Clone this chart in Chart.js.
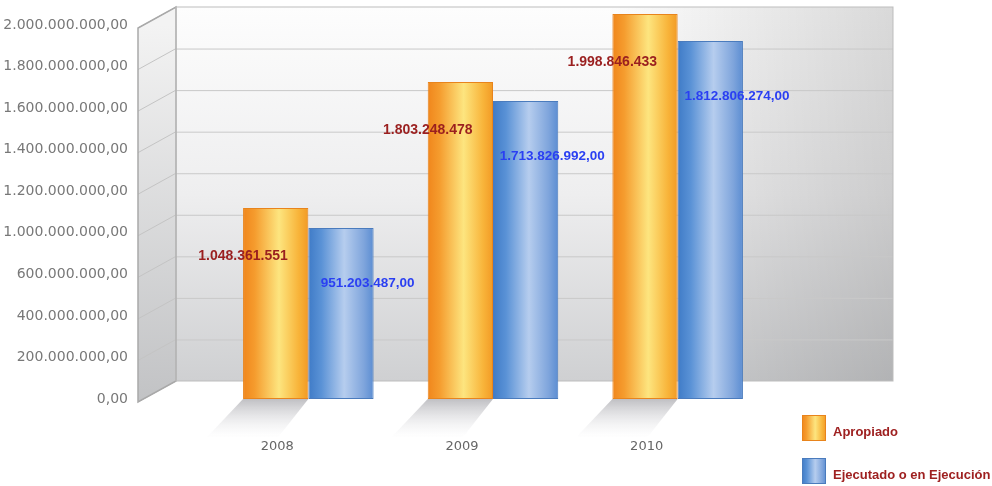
<!DOCTYPE html>
<html><head><meta charset="utf-8">
<script src="https://cdn.jsdelivr.net/npm/chart.js@4.4.1/dist/chart.umd.min.js"></script>
<style>html,body{margin:0;padding:0;background:#fff}#wrap{width:992px;height:486px;position:relative}</style>
</head><body><div id="wrap"><canvas id="c"></canvas></div>
<script>
// ---- data ----
const categories = ['2008', '2009', '2010'];
const seriesNames = ['Apropiado', 'Ejecutado o en Ejecución'];
const apropiado = [1021000000, 1695000000, 2059000000];
const ejecutado = [914000000, 1594000000, 1914000000];
const apropiadoLabels = ['1.048.361.551', '1.803.248.478', '1.998.846.433'];
const ejecutadoLabels = ['951.203.487,00', '1.713.826.992,00', '1.812.806.274,00'];
const yTickLabels = ['0,00', '200.000.000,00', '400.000.000,00', '600.000.000,00', '1.000.000.000,00',
  '1.200.000.000,00', '1.400.000.000,00', '1.600.000.000,00', '1.800.000.000,00', '2.000.000.000,00'];
const yTickTop = 2000000000;

// ---- styling ----
const CAT_PCT = 0.707;
const orangeStops = [[0, '#f0861c'], [0.18, '#f59c2e'], [0.55, '#fde57f'], [0.85, '#f8b43a'], [1, '#f29a25']];
const blueStops = [[0, '#3f7bc7'], [0.2, '#5a92d6'], [0.55, '#b6cdee'], [0.85, '#7fa5dc'], [1, '#5b8dd2']];
const seriesStops = [orangeStops, blueStops];
const seriesBorders = ['#e8841c', '#4a7bbd'];

function barFill(stops, fallback) {
  return (ctx) => {
    const ch = ctx.chart, xs = ch.scales.x;
    if (!xs || ctx.type !== 'data' || !isFinite(xs.width) || xs.width <= 0) return fallback;
    const catW = xs.width / categories.length;
    const bw = catW * CAT_PCT / 2;
    const cx = xs.getPixelForValue(ctx.dataIndex) + (ctx.datasetIndex === 0 ? -bw / 2 : bw / 2);
    const g = ch.ctx.createLinearGradient(cx - bw / 2, 0, cx + bw / 2, 0);
    stops.forEach(([o, c]) => g.addColorStop(o, c));
    return g;
  };
}

const wallsPlugin = {
  id: 'walls',
  beforeDatasetsDraw(chart) {
    const c = chart.ctx, ca = chart.chartArea, ys = chart.scales.y;
    const px = ys.ticks.map(t => ys.getPixelForValue(t.value));
    const base = px[0], top = px[px.length - 1];
    const L = ca.left - 78, B = ca.left - 40, R = ca.right + 123;
    const dL = 3, dB = -18;
    c.save();
    // back wall
    let g = c.createLinearGradient(0, top + dB, 0, base + dB);
    g.addColorStop(0, '#fdfdfd'); g.addColorStop(0.5, '#eeeeef'); g.addColorStop(1, '#cfd0d2');
    c.fillStyle = g;
    c.fillRect(B, top + dB, R - B, base - top);
    g = c.createLinearGradient(B, 0, R, 0);
    g.addColorStop(0, 'rgba(0,0,0,0)'); g.addColorStop(0.6, 'rgba(0,0,0,0)'); g.addColorStop(1, 'rgba(0,0,0,0.14)');
    c.fillStyle = g;
    c.fillRect(B, top + dB, R - B, base - top);
    // side wall
    g = c.createLinearGradient(0, top, 0, base);
    g.addColorStop(0, '#f3f3f3'); g.addColorStop(1, '#c2c3c5');
    c.fillStyle = g;
    c.beginPath();
    c.moveTo(L, base + dL); c.lineTo(L, top + dL); c.lineTo(B, top + dB); c.lineTo(B, base + dB); c.closePath();
    c.fill();
    // grid lines
    c.lineWidth = 1;
    px.forEach((p, i) => {
      c.strokeStyle = '#c4c4c4';
      c.beginPath(); c.moveTo(L, p + dL); c.lineTo(B, p + dB); c.stroke();
      if (i > 0 && i < px.length - 1) {
        c.strokeStyle = '#c9c9c9';
        c.beginPath(); c.moveTo(B, p + dB + 0.5); c.lineTo(R, p + dB + 0.5); c.stroke();
      }
    });
    // borders
    c.strokeStyle = '#a9a9a9'; c.lineWidth = 1.5;
    c.beginPath();
    c.moveTo(L, base + dL); c.lineTo(L, top + dL); c.lineTo(B, top + dB); c.lineTo(B, base + dB); c.closePath();
    c.stroke();
    c.strokeStyle = '#bdbdbd'; c.lineWidth = 1;
    c.strokeRect(B, top + dB, R - B, base - top);
    // floor shadows of the bars
    const meta = chart.getDatasetMeta(0);
    meta.data.forEach(bar => {
      const { x, width } = bar.getProps(['x', 'width'], true);
      const l = x - width / 2, r = x + width / 2;
      const sg = c.createLinearGradient(0, base, 0, base + 40);
      sg.addColorStop(0, 'rgba(170,170,175,0.75)'); sg.addColorStop(1, 'rgba(235,235,238,0)');
      c.fillStyle = sg;
      c.beginPath();
      c.moveTo(l, base); c.lineTo(r, base); c.lineTo(r - 30, base + 38); c.lineTo(l - 36, base + 38); c.closePath();
      c.fill();
    });
    c.restore();
  }
};

const labelsPlugin = {
  id: 'valueLabels',
  afterDatasetsDraw(chart) {
    const c = chart.ctx;
    c.save();
    c.textBaseline = 'middle'; c.textAlign = 'center';
    chart.getDatasetMeta(0).data.forEach((bar, i) => {
      const { x, y, width } = bar.getProps(['x', 'y', 'width'], true);
      c.font = 'bold 14px "Liberation Sans", Arial, sans-serif';
      c.fillStyle = '#9a1f1f';
      c.fillText(apropiadoLabels[i], x - width / 2, y + 48);
    });
    chart.getDatasetMeta(1).data.forEach((bar, i) => {
      const { x, y, width } = bar.getProps(['x', 'y', 'width'], true);
      c.font = 'bold 13.5px "Liberation Sans", Arial, sans-serif';
      c.fillStyle = '#2a3ff2';
      c.fillText(ejecutadoLabels[i], x + width / 2 - 6, y + 55);
    });
    c.restore();
  }
};

const legendPlugin = {
  id: 'cornerLegend',
  afterDraw(chart) {
    const c = chart.ctx;
    const lx = chart.width - 190;
    const rows = [chart.height - 71, chart.height - 28];
    c.save();
    c.font = 'bold 13px "Liberation Sans", Arial, sans-serif';
    c.textBaseline = 'middle'; c.textAlign = 'left';
    seriesNames.forEach((name, i) => {
      const y = rows[i];
      const g = c.createLinearGradient(lx, 0, lx + 24, 0);
      seriesStops[i].forEach(([o, col]) => g.addColorStop(o, col));
      c.fillStyle = g;
      c.fillRect(lx, y, 24, 26);
      c.strokeStyle = seriesBorders[i]; c.lineWidth = 1;
      c.strokeRect(lx + 0.5, y + 0.5, 23, 25);
      c.fillStyle = '#9e2020';
      c.fillText(name, lx + 31, y + 17);
    });
    c.restore();
  }
};

Chart.defaults.font.family = '"DejaVu Sans", sans-serif';
Chart.defaults.animation = false;

new Chart(document.getElementById('c'), {
  type: 'bar',
  data: {
    labels: categories,
    datasets: [
      { label: seriesNames[0], data: apropiado, backgroundColor: barFill(orangeStops, '#f7b334'),
        borderColor: seriesBorders[0], borderWidth: 1, borderSkipped: false },
      { label: seriesNames[1], data: ejecutado, backgroundColor: barFill(blueStops, '#6b9bd8'),
        borderColor: seriesBorders[1], borderWidth: 1, borderSkipped: false }
    ]
  },
  options: {
    responsive: true,
    maintainAspectRatio: false,
    animation: false,
    layout: { padding: { top: 5, left: 0, right: 222, bottom: 0 } },
    datasets: { bar: { categoryPercentage: CAT_PCT, barPercentage: 1.0 } },
    scales: {
      x: {
        type: 'category',
        grid: { display: false, drawTicks: false },
        border: { display: false },
        ticks: { padding: 40, labelOffset: -31, color: '#666', font: { size: 13 }, maxRotation: 0 },
        afterFit: s => { s.height = 87; }
      },
      y: {
        type: 'linear',
        min: 0,
        max: yTickTop * (399 - 5) / 374,
        bounds: 'data',
        grid: { display: false, drawTicks: false },
        border: { display: false },
        afterBuildTicks: s => { s.ticks = yTickLabels.map((_, i) => ({ value: yTickTop * i / (yTickLabels.length - 1) })); },
        ticks: { padding: 88, color: '#787878', font: { size: 14 }, autoSkip: false,
          callback: (v, i) => yTickLabels[i] },
        afterFit: s => { s.width = 216; s.paddingTop = 0; s.paddingBottom = 0; }
      }
    },
    plugins: {
      tooltip: { enabled: false },
      legend: { display: false }
    }
  },
  plugins: [wallsPlugin, labelsPlugin, legendPlugin]
});
</script>
</body></html>
